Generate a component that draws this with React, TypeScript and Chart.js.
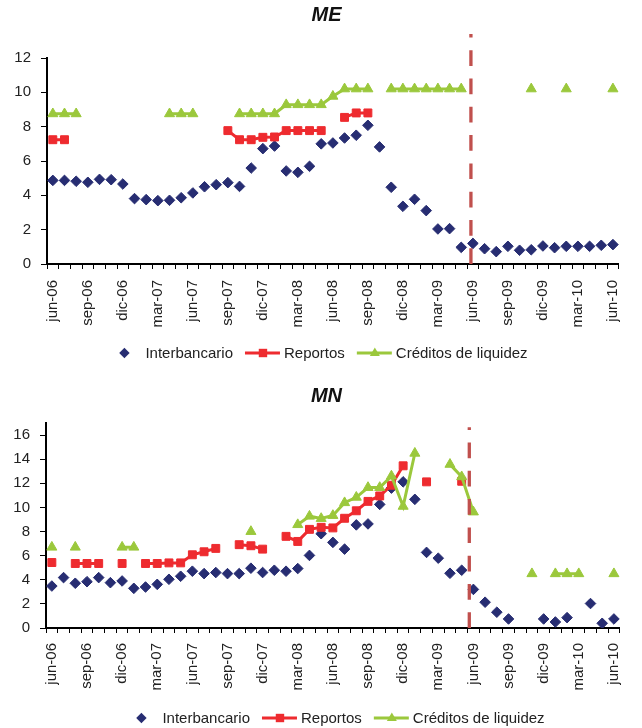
import React, { useEffect, useRef } from 'react';
import { Chart, registerables } from 'chart.js';

Chart.register(...registerables);

// ---------- DATA ----------
const CATEGORIES = [
  'jun-06', 'jul-06', 'ago-06', 'sep-06', 'oct-06', 'nov-06', 'dic-06',
  'ene-07', 'feb-07', 'mar-07', 'abr-07', 'may-07', 'jun-07', 'jul-07', 'ago-07', 'sep-07', 'oct-07', 'nov-07', 'dic-07',
  'ene-08', 'feb-08', 'mar-08', 'abr-08', 'may-08', 'jun-08', 'jul-08', 'ago-08', 'sep-08', 'oct-08', 'nov-08', 'dic-08',
  'ene-09', 'feb-09', 'mar-09', 'abr-09', 'may-09', 'jun-09', 'jul-09', 'ago-09', 'sep-09', 'oct-09', 'nov-09', 'dic-09',
  'ene-10', 'feb-10', 'mar-10', 'abr-10', 'may-10', 'jun-10',
];

const SERIES_NAMES = ['Interbancario', 'Reportos', 'Créditos de liquidez'];

const ME_INTERBANCARIO = [
  4.87, 4.87, 4.82, 4.76, 4.93, 4.91, 4.66,
  3.81, 3.75, 3.69, 3.71, 3.86, 4.14, 4.50, 4.62, 4.74, 4.52, 5.59, 6.72,
  6.87, 5.42, 5.34, 5.69, 7.00, 7.05, 7.34, 7.50, 8.08, 6.82, 4.47, 3.36,
  3.77, 3.11, 2.04, 2.06, 0.97, 1.20, 0.89, 0.72, 1.03, 0.80, 0.83, 1.05,
  0.95, 1.03, 1.03, 1.03, 1.09, 1.13,
];
const ME_REPORTOS = [
  7.24, 7.24, null, null, null, null, null,
  null, null, null, null, null, null, null, null, 7.77, 7.24, 7.24, 7.38,
  7.40, 7.77, 7.77, 7.77, 7.77, null, 8.54, 8.80, 8.80, null, null, null,
  null, null, null, null, null, null, null, null, null, null, null, null,
  null, null, null, null, null, null,
];
const ME_CREDITOS = [
  8.75, 8.75, 8.75, null, null, null, null,
  null, null, null, 8.75, 8.75, 8.75, null, null, null, 8.75, 8.75, 8.75,
  8.75, 9.28, 9.28, 9.28, 9.28, 9.77, 10.2, 10.2, 10.2, null, 10.2, 10.2,
  10.2, 10.2, 10.2, 10.2, 10.2, null, null, null, null, null, 10.2, null,
  null, 10.2, null, null, null, 10.2,
];

const MN_INTERBANCARIO = [
  3.48, 4.18, 3.71, 3.84, 4.18, 3.76, 3.90,
  3.29, 3.40, 3.62, 4.04, 4.29, 4.71, 4.51, 4.60, 4.51, 4.51, 4.96, 4.60,
  4.79, 4.71, 4.93, 6.02, 7.82, 7.10, 6.54, 8.55, 8.63, 10.25, 11.6, 12.12,
  10.67, 6.27, 5.79, 4.54, 4.79, 3.20, 2.14, 1.31, 0.75, null, null, 0.75,
  0.50, 0.86, null, 2.03, 0.39, 0.75,
];
const MN_REPORTOS = [
  5.43, null, 5.35, 5.35, 5.35, null, 5.35,
  null, 5.35, 5.35, 5.40, 5.40, 6.07, 6.32, 6.60, null, 6.91, 6.82, 6.54,
  null, 7.60, 7.18, 8.18, 8.35, 8.30, 9.10, 9.72, 10.50, 10.95, 11.84, 13.45,
  null, 12.12, null, null, 12.17, null, null, null, null, null, null, null,
  null, null, null, null, null, null,
];
const MN_CREDITOS = [
  6.7, null, 6.7, null, null, null, 6.7,
  6.7, null, null, null, null, null, null, null, null, null, 8.0, null,
  null, null, 8.57, 9.27, 9.08, 9.33, 10.39, 10.84, 11.65, 11.65, 12.6, 10.09,
  14.49, null, null, 13.57, 12.54, 9.62, null, null, null, null, 4.5, null,
  4.5, 4.5, 4.5, null, null, 4.5,
];

const ME_Y_TICKS = [0, 2, 4, 6, 8, 10, 12];
const MN_Y_TICKS = [0, 2, 4, 6, 8, 10, 12, 14, 16];

// ---------- STYLE ----------
const NAVY = '#272D72';
const RED = '#EE2B2F';
const GREEN = '#9BC83C';
const DASH = '#C0504D';
const TEXT = '#222222';
const FONT = '"Liberation Sans", Arial, Helvetica, sans-serif';

type PanelSpec = {
  title: string;
  inter: (number | null)[];
  reportos: (number | null)[];
  creditos: (number | null)[];
  yMax: number;
  yTicks: number[];
  markerIndex: number;
  markerTop: number;
  padLeft: number;
  padRight: number;
  padTop: number;
  titleY: number;
  legendCenterX: number;
  legendY: number;
  xLabelPad: number;
};

function drawDiamond(ctx: CanvasRenderingContext2D, x: number, y: number, r: number) {
  ctx.beginPath();
  ctx.moveTo(x, y - r);
  ctx.lineTo(x + r, y);
  ctx.lineTo(x, y + r);
  ctx.lineTo(x - r, y);
  ctx.closePath();
  ctx.fill();
}

const overlayPlugin = {
  id: 'panelOverlay',
  afterDraw(chart: any, _args: any, opts: any) {
    const ctx: CanvasRenderingContext2D = chart.ctx;
    const xs = chart.scales.x;
    const ys = chart.scales.y;

    // dashed vertical marker
    const x = xs.getPixelForValue(opts.markerIndex);
    ctx.save();
    ctx.strokeStyle = DASH;
    ctx.lineWidth = 3.3;
    ctx.setLineDash([15.7, 12.6]);
    ctx.beginPath();
    ctx.moveTo(x, ys.getPixelForValue(0));
    ctx.lineTo(x, ys.getPixelForValue(opts.markerTop));
    ctx.stroke();
    ctx.restore();

    // title
    ctx.save();
    ctx.font = `italic bold 20px ${FONT}`;
    ctx.fillStyle = '#111111';
    ctx.textAlign = 'center';
    ctx.textBaseline = 'middle';
    ctx.fillText(opts.title, opts.titleX, opts.titleY);
    ctx.restore();

    // legend
    ctx.save();
    ctx.font = `15px ${FONT}`;
    ctx.textBaseline = 'middle';
    ctx.textAlign = 'left';
    const sym = 36;
    const textOff = 39;
    const gap = 12;
    const widths = SERIES_NAMES.map((n) => ctx.measureText(n).width);
    const total = widths.reduce((a, b) => a + b, 0) + textOff * 3 + gap * 2;
    let sx = opts.legendCenterX - total / 2;
    const ly = opts.legendY;
    SERIES_NAMES.forEach((name, i) => {
      const cx = sx + sym / 2;
      if (i === 0) {
        ctx.fillStyle = NAVY;
        drawDiamond(ctx, cx, ly, 5.2);
      } else {
        const col = i === 1 ? RED : GREEN;
        ctx.strokeStyle = col;
        ctx.fillStyle = col;
        ctx.lineWidth = 3;
        ctx.beginPath();
        ctx.moveTo(sx, ly);
        ctx.lineTo(sx + 35, ly);
        ctx.stroke();
        if (i === 1) {
          ctx.fillRect(cx - 4.2, ly - 4.2, 8.4, 8.4);
        } else {
          ctx.beginPath();
          ctx.moveTo(cx, ly - 5.5);
          ctx.lineTo(cx + 5, ly + 3);
          ctx.lineTo(cx - 5, ly + 3);
          ctx.closePath();
          ctx.fill();
        }
      }
      ctx.fillStyle = TEXT;
      ctx.fillText(name, sx + textOff, ly + 0.5);
      sx += textOff + widths[i] + gap;
    });
    ctx.restore();
  },
};

function buildConfig(spec: PanelSpec): any {
  const tickFont = { family: FONT, size: 15 };
  return {
    type: 'line',
    data: {
      labels: CATEGORIES,
      datasets: [
        {
          label: SERIES_NAMES[0],
          data: spec.inter,
          showLine: false,
          pointStyle: 'rectRot',
          pointRadius: 5.3,
          pointBackgroundColor: NAVY,
          pointBorderColor: NAVY,
          pointBorderWidth: 1,
          borderColor: NAVY,
          backgroundColor: NAVY,
          order: 3,
        },
        {
          label: SERIES_NAMES[1],
          data: spec.reportos,
          borderColor: RED,
          backgroundColor: RED,
          borderWidth: 3,
          pointStyle: 'rect',
          pointRadius: 5.6,
          pointBackgroundColor: RED,
          pointBorderColor: RED,
          pointBorderWidth: 1,
          spanGaps: false,
          tension: 0,
          order: 2,
        },
        {
          label: SERIES_NAMES[2],
          data: spec.creditos,
          borderColor: GREEN,
          backgroundColor: GREEN,
          borderWidth: 3,
          pointStyle: 'triangle',
          pointRadius: 5.8,
          pointBackgroundColor: GREEN,
          pointBorderColor: GREEN,
          pointBorderWidth: 1,
          spanGaps: false,
          tension: 0,
          order: 1,
        },
      ],
    },
    options: {
      animation: false,
      responsive: false,
      devicePixelRatio: 1,
      events: [],
      layout: { padding: { left: spec.padLeft, right: spec.padRight, top: spec.padTop, bottom: 0 } },
      plugins: {
        legend: { display: false },
        title: { display: false },
        tooltip: { enabled: false },
        panelOverlay: {
          title: spec.title,
          titleX: 326.5,
          titleY: spec.titleY,
          markerIndex: spec.markerIndex,
          markerTop: spec.markerTop,
          legendCenterX: spec.legendCenterX,
          legendY: spec.legendY,
        },
      },
      scales: {
        x: {
          type: 'category',
          offset: true,
          grid: {
            offset: true,
            drawOnChartArea: false,
            drawTicks: true,
            tickLength: 5,
            color: '#000000',
            lineWidth: 1,
          },
          border: { display: true, color: '#000000', width: 2 },
          ticks: {
            autoSkip: false,
            maxRotation: 90,
            minRotation: 90,
            padding: spec.xLabelPad,
            color: TEXT,
            font: tickFont,
            callback: (_v: any, i: number) => (i % 3 === 0 ? CATEGORIES[i] : ''),
          },
          afterFit: (s: any) => {
            s.height = 100;
          },
        },
        y: {
          min: 0,
          max: spec.yMax,
          grid: {
            drawOnChartArea: false,
            drawTicks: true,
            tickLength: 6,
            color: '#000000',
            lineWidth: 1,
          },
          border: { display: true, color: '#000000', width: 2 },
          ticks: {
            padding: 10,
            color: TEXT,
            font: tickFont,
          },
          afterBuildTicks: (s: any) => {
            s.ticks = spec.yTicks.map((v) => ({ value: v }));
          },
          afterFit: (s: any) => {
            s.width = 36;
          },
        },
      },
    },
    plugins: [overlayPlugin],
  };
}

const ME_SPEC: PanelSpec = {
  title: 'ME',
  inter: ME_INTERBANCARIO,
  reportos: ME_REPORTOS,
  creditos: ME_CREDITOS,
  yMax: 12,
  yTicks: ME_Y_TICKS,
  markerIndex: 35.83,
  markerTop: 13.4,
  padLeft: 11,
  padRight: 7,
  padTop: 58,
  titleY: 15.5,
  legendCenterX: 317,
  legendY: 353,
  xLabelPad: 11,
};

const MN_SPEC: PanelSpec = {
  title: 'MN',
  inter: MN_INTERBANCARIO,
  reportos: MN_REPORTOS,
  creditos: MN_CREDITOS,
  yMax: 17,
  yTicks: MN_Y_TICKS,
  markerIndex: 35.65,
  markerTop: 16.65,
  padLeft: 10,
  padRight: 9,
  padTop: 59,
  titleY: 32.5,
  legendCenterX: 334,
  legendY: 354,
  xLabelPad: 10,
};

function Panel({ spec }: { spec: PanelSpec }) {
  const ref = useRef<HTMLCanvasElement | null>(null);
  useEffect(() => {
    if (!ref.current) return;
    const chart = new Chart(ref.current, buildConfig(spec));
    return () => chart.destroy();
  }, [spec]);
  return (
    <canvas
      ref={ref}
      width={642}
      height={364}
      style={{ display: 'block', width: 642, height: 364 }}
    />
  );
}

export default function App() {
  return (
    <div
      style={{
        position: 'absolute',
        left: 0,
        top: 0,
        width: 642,
        height: 728,
        background: '#ffffff',
        overflow: 'hidden',
      }}
    >
      <Panel spec={ME_SPEC} />
      <Panel spec={MN_SPEC} />
    </div>
  );
}
